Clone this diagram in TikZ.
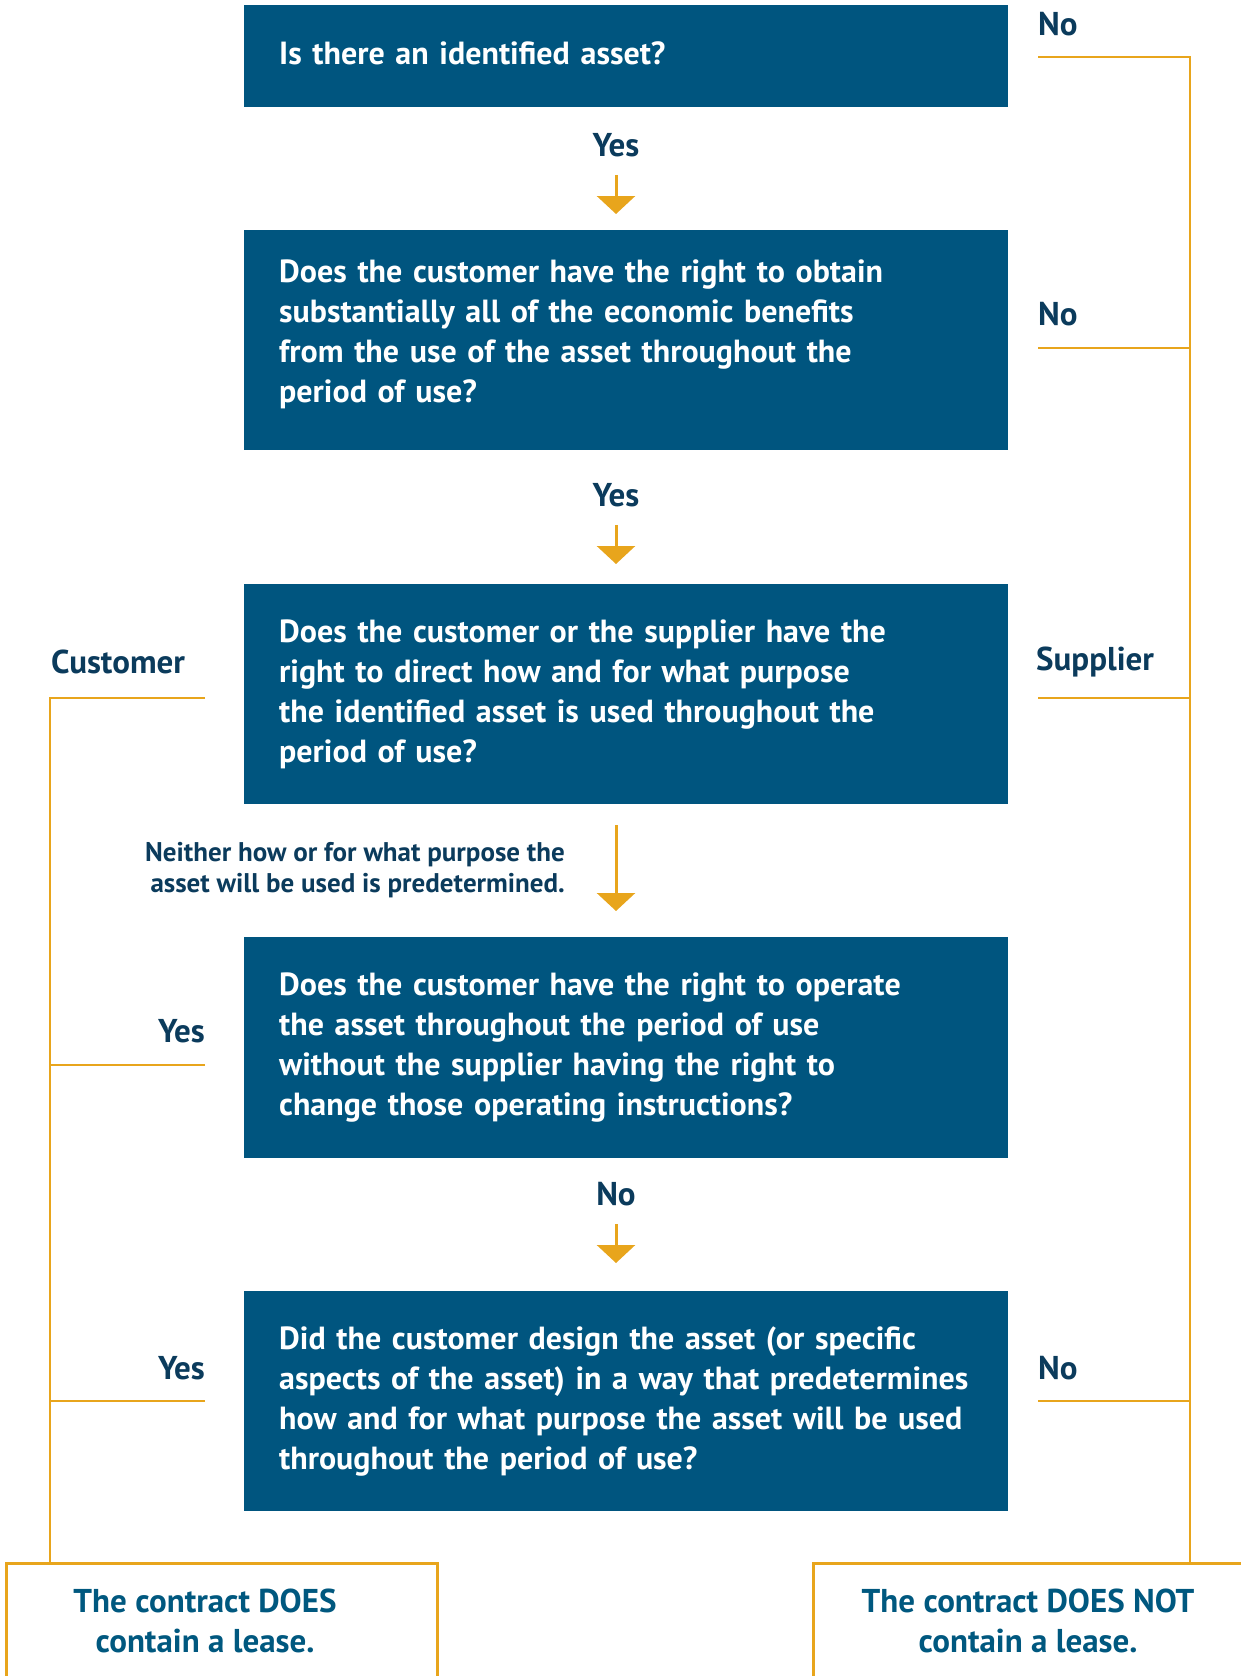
\documentclass[tikz,border=0pt]{standalone}
\usepackage{fontspec}
\setmainfont{PT Sans}
\usetikzlibrary{positioning, arrows.meta}
\definecolor{boxblue}{HTML}{00557F}
\definecolor{labelblue}{HTML}{0B3B5C}
\definecolor{railorange}{HTML}{E8A51C}
\definecolor{endblue}{HTML}{00587F}
\tikzset{
    question/.style={fill=boxblue, text=white, anchor=north west, minimum width=764pt, minimum height=220pt, text width=694pt, inner xsep=35pt, inner ysep=0pt, align=left, font=\bfseries\fontsize{32}{40}\selectfont}, % blue question boxes
    answer/.style={text=labelblue, inner sep=0pt, font=\bfseries\fontsize{33}{36}\selectfont}, % Yes / No / Customer / Supplier
    note/.style={answer, align=right, font=\bfseries\fontsize{27}{31}\selectfont}, % the small remark above box four
    rail/.style={draw=railorange, line width=2.5pt}, % orange side lines
    flow/.style={draw=railorange, line width=3pt, -{Triangle[width=38pt,length=18pt]}}, % down arrows
    outcome/.style={draw=railorange, line width=3pt, fill=white, anchor=north west, minimum width=431pt, minimum height=160pt}, % the two result boxes
    outcometext/.style={text=endblue, align=center, inner sep=0pt, font=\bfseries\fontsize{33}{40}\selectfont},
}
\begin{document}
\begin{tikzpicture}[x=1pt, y=-1pt]
\useasboundingbox (0,0) rectangle (1241,1676);
\clip (0,0) rectangle (1241,1676);

% the questions
\node[question, minimum height=102pt, text depth=6pt] (q1) at (244,5) {Is there an identified asset?};
\node[question, text height=10pt] (q2) at (244,230) {Does the customer have the right to obtain\\substantially all of the economic benefits\\from the use of the asset throughout the\\period of use?};
\node[question] (q3) at (244,584) {Does the customer or the supplier have the\\right to direct how and for what purpose\\the identified asset is used throughout the\\period of use?};
\node[question, minimum height=221pt] (q4) at (244,937) {Does the customer have the right to operate\\the asset throughout the period of use\\without the supplier having the right to\\change those operating instructions?};
\node[question] (q5) at (244,1291) {Did the customer design the asset (or specific\\aspects of the asset) in a way that predetermines\\how and for what purpose the asset will be used\\throughout the period of use?};

% rails and spine
\coordinate (spine) at (616,0);
\coordinate (leftrail) at (50,0);
\coordinate (rightrail) at (1190,0);

% middle answers and arrows
\node[answer] (yes1) at (616,145) {Yes};
\node[answer] (yes2) at (616,495) {Yes};
\node[note, anchor=east] (neither) at (565,870) {Neither how or for what purpose the\\asset will be used is predetermined.};
\node[answer] (no4) at (616,1194) {No};

\draw[flow, shorten <=18pt, shorten >=16pt] (yes1) -- (yes1 |- q2.north);
\draw[flow, shorten <=18pt, shorten >=20pt] (yes2) -- (yes2 |- q3.north);
\draw[flow, shorten <=21pt, shorten >=26pt] (spine |- q3.south) -- (spine |- q4.north);
\draw[flow, shorten <=18pt, shorten >=28pt] (no4) -- (no4 |- q5.north);

% right side
\node[answer, anchor=west] (no1) at (1038,24) {No};
\node[answer, anchor=west] (no2) at (1038,314) {No};
\node[answer, anchor=west] (supplier) at (1036,662) {Supplier};
\node[answer, anchor=west] (no5) at (1038,1368) {No};
\coordinate (r1) at (1038,57);
\coordinate (r2) at (1038,348);
\coordinate (r3) at (1038,698);
\coordinate (r4) at (1038,1401);

% left side
\node[answer, anchor=west] (customer) at (51,662) {Customer};
\node[answer, anchor=east] (yes4) at (205,1031) {Yes};
\node[answer, anchor=east] (yes5) at (205,1368) {Yes};
\coordinate (l1) at (205,698);
\coordinate (l2) at (205,1065);
\coordinate (l3) at (205,1401);

% results
\node[outcome] (lease) at (5,1562) {};
\node[outcome] (nolease) at (812,1562) {};
\node[outcometext] (leasetext) at (205,1621) {The contract DOES\\contain a lease.};
\node[outcometext] (noleasetext) at (1028,1621) {The contract DOES NOT\\contain a lease.};

\draw[rail] (r1) -| (rightrail |- nolease.north);
\draw[rail] (r2) -- (r2 -| rightrail);
\draw[rail] (r3) -- (r3 -| rightrail);
\draw[rail] (r4) -- (r4 -| rightrail);
\draw[rail] (l1) -| (leftrail |- lease.north);
\draw[rail] (l2) -- (l2 -| leftrail);
\draw[rail] (l3) -- (l3 -| leftrail);
\end{tikzpicture}
\end{document}
